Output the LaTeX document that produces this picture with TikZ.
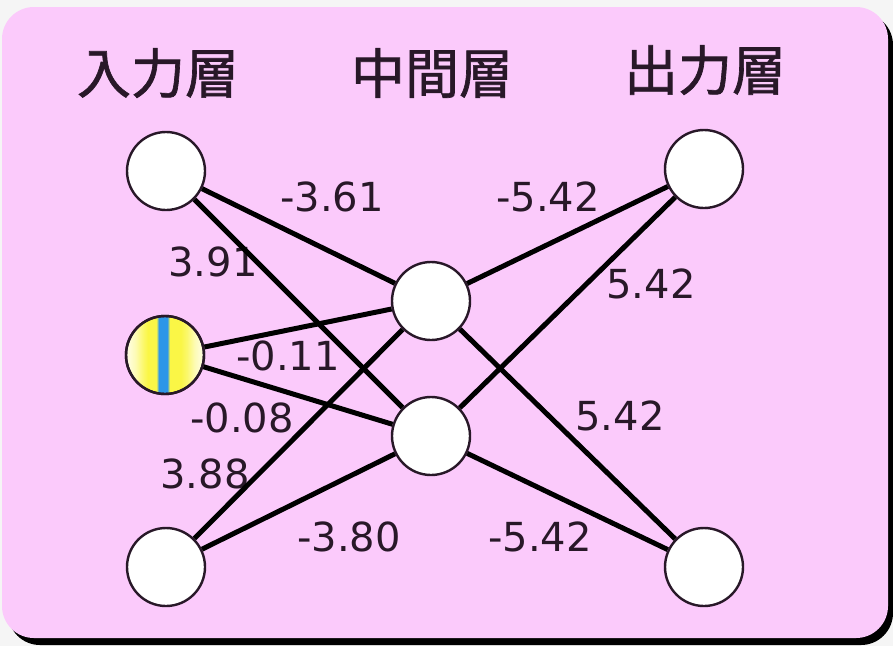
\documentclass[tikz,border=0pt]{standalone}
\usepackage{fontspec}
\newfontfamily\jpfont{Noto Sans CJK JP}[FakeBold=1.2]
\newfontfamily\numfont{DejaVu Sans}
\definecolor{bgpink}{RGB}{251,202,251}
\definecolor{inkcol}{RGB}{40,24,40}
\definecolor{myyellow}{RGB}{250,246,70}
\definecolor{myblue}{RGB}{45,150,232}
\pgfdeclarehorizontalshading{stripes}{100bp}{color(0bp)=(white); color(25bp)=(myyellow!12!white); color(31bp)=(myyellow!40!white); color(36bp)=(myyellow!80!white); color(39bp)=(myyellow); color(44.5bp)=(myyellow); color(46bp)=(myblue); color(51.5bp)=(myblue); color(53bp)=(myyellow); color(60bp)=(myyellow); color(64bp)=(myyellow!80!white); color(69bp)=(myyellow!40!white); color(75bp)=(myyellow!12!white); color(100bp)=(white)}
\tikzset{
  neuron/.style={circle, draw=inkcol, line width=2.4pt, fill=white, minimum size=78pt, inner sep=0pt},
  title/.style={font=\jpfont\fontsize{54}{60}\selectfont, text=inkcol, inner sep=0pt},
  weight/.style={font=\numfont\fontsize{40}{46}\selectfont, text=inkcol, inner sep=0pt},
  link/.style={line width=5pt, black}
}
\begin{document}
\begin{tikzpicture}[x=1pt,y=-1pt]
\useasboundingbox (0,0) rectangle (893,646);
\fill[white!96!black] (0,0) rectangle (893,646);
\fill[black, rounded corners=32pt] (8,13) rectangle (893,645);
\fill[bgpink, rounded corners=32pt] (2,7) rectangle (888,638);
% titles
\node[title] (t1) at (158,73) {入力層};
\node[title] (t2) at (432,73) {中間層};
\node[title] (t3) at (705,70) {出力層};
% neurons
\node[neuron] (i1) at (166,171) {};
\node[neuron, shading=stripes] (i2) at (165,355) {};
\node[neuron] (i3) at (166,567) {};
\node[neuron] (h1) at (431,301) {};
\node[neuron] (h2) at (431,436) {};
\node[neuron] (o1) at (704,169) {};
\node[neuron] (o2) at (704,567) {};
% weights
\node[weight] (w1) at (332,197) {-3.61};
\node[weight] (w2) at (213,262) {3.91};
\node[weight] (w3) at (288,356) {-0.11};
\node[weight] (w4) at (242,418) {-0.08};
\node[weight] (w5) at (205,474) {3.88};
\node[weight] (w6) at (349,537) {-3.80};
\node[weight] (w7) at (548,197) {-5.42};
\node[weight] (w8) at (651,284) {5.42};
\node[weight] (w9) at (620,416) {5.42};
\node[weight] (w10) at (540,537) {-5.42};
% links
\draw[link] (i1) -- (h1);
\draw[link] (i1) -- (h2);
\draw[link] (i2) -- (h1);
\draw[link] (i2) -- (h2);
\draw[link] (i3) -- (h1);
\draw[link] (i3) -- (h2);
\draw[link] (h1) -- (o1);
\draw[link] (h1) -- (o2);
\draw[link] (h2) -- (o1);
\draw[link] (h2) -- (o2);
% redraw outline of shaded neuron
\draw[inkcol, line width=2.4pt] (i2.center) circle (39pt);
\end{tikzpicture}
\end{document}
